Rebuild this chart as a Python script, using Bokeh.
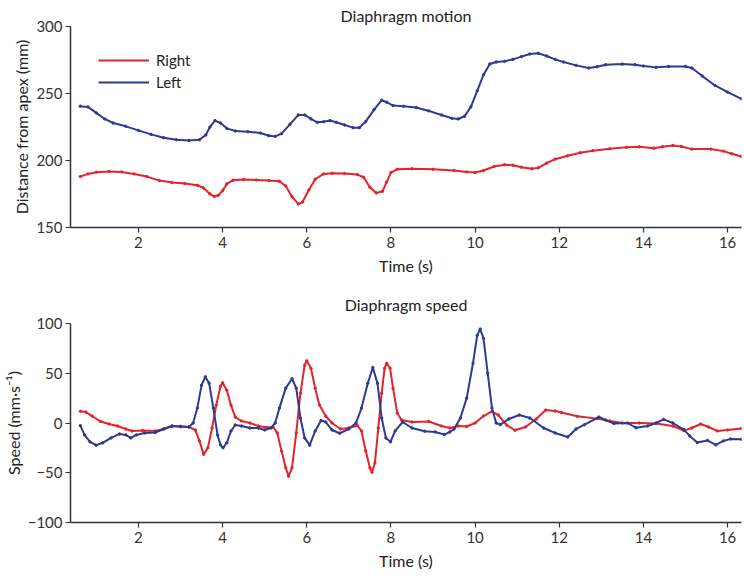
from bokeh.plotting import figure
from bokeh.layouts import column
from bokeh.models import Range1d, FixedTicker, Legend, LegendItem
from bokeh.embed import file_html
from bokeh.resources import INLINE

# ---- Diaphragm motion (distance from apex, mm) ----
t_dist_right = [0.62, 0.8, 1.0, 1.3, 1.6, 1.9, 2.2, 2.5, 2.8, 3.1, 3.4, 3.55, 3.7, 3.8, 3.9, 4.0,
                4.1, 4.25, 4.5, 4.8, 5.1, 5.35, 5.5, 5.65, 5.8, 5.9, 6.05, 6.2, 6.4, 6.6, 6.9,
                7.2, 7.35, 7.5, 7.65, 7.8, 7.9, 8.0, 8.15, 8.5, 9.0, 9.5, 9.8, 10.0, 10.2, 10.45,
                10.7, 10.9, 11.1, 11.35, 11.5, 11.7, 11.9, 12.2, 12.5, 12.8, 13.2, 13.6, 13.9,
                14.25, 14.45, 14.7, 14.9, 15.15, 15.6, 15.9, 16.1, 16.33]
dist_right = [188, 190, 191.3, 191.8, 191.5, 190, 188, 185, 183.5, 182.8, 181.5, 179.5, 175, 173.2,
              174, 177.5, 182.5, 185.3, 185.8, 185.5, 185, 184.5, 181, 173, 167.5, 169, 178, 186,
              190, 190.5, 190.3, 189.5, 187.5, 180, 175.8, 177, 184, 191, 193.5, 193.8, 193.5,
              192.5, 191.5, 191, 192.5, 195.5, 196.8, 196.5, 195, 193.8, 194.5, 198, 201, 203.5,
              205.8, 207.3, 208.8, 209.8, 210.2, 209.2, 210.3, 211.2, 210.5, 208.5, 208.5, 207,
              205, 203]

t_dist_left = [0.62, 0.8, 1.0, 1.2, 1.4, 1.7, 2.0, 2.3, 2.6, 2.9, 3.2, 3.45, 3.6, 3.7, 3.82, 3.95,
               4.1, 4.3, 4.6, 4.9, 5.1, 5.25, 5.4, 5.6, 5.8, 5.95, 6.1, 6.25, 6.4, 6.55, 6.7, 6.9,
               7.1, 7.25, 7.4, 7.6, 7.78, 7.9, 8.05, 8.3, 8.6, 8.9, 9.2, 9.45, 9.6, 9.75, 9.9,
               10.05, 10.2, 10.35, 10.5, 10.7, 10.9, 11.1, 11.3, 11.5, 11.7, 11.9, 12.1, 12.4,
               12.7, 12.9, 13.1, 13.5, 13.8, 14.0, 14.3, 14.6, 15.0, 15.15, 15.4, 15.7, 16.0, 16.33]
dist_left = [240.5, 240, 235.5, 231, 228, 225.5, 222.5, 219.5, 217, 215.5, 215, 215.5, 219, 225,
             229.8, 228, 224, 222, 221.5, 220.5, 218.5, 218, 220, 227, 234, 234, 231, 228.5, 229,
             229.8, 228.5, 226.5, 224.5, 224.5, 229, 238, 245, 243.5, 241, 240.5, 239.5, 237, 234,
             231.5, 231, 233, 240, 252, 264, 272, 273.5, 274, 275.5, 277.5, 279.5, 280, 278,
             275.5, 273.5, 271, 269, 270, 271.5, 272, 271.5, 270.5, 269.5, 270.2, 270.2, 269,
             263, 256, 251, 246]

# ---- Diaphragm speed (mm/s) ----
t_speed_right = [0.62, 0.75, 0.9, 1.1, 1.3, 1.5, 1.7, 1.85, 2.1, 2.4, 2.6, 2.8, 3.0, 3.2, 3.35,
                 3.45, 3.55, 3.65, 3.75, 3.85, 3.95, 4.0, 4.1, 4.2, 4.3, 4.45, 4.65, 4.85, 5.05,
                 5.2, 5.3, 5.4, 5.5, 5.57, 5.65, 5.75, 5.85, 5.95, 6.0, 6.1, 6.2, 6.3, 6.45, 6.6,
                 6.8, 7.0, 7.2, 7.3, 7.4, 7.5, 7.55, 7.62, 7.7, 7.78, 7.85, 7.9, 7.98, 8.05, 8.15,
                 8.25, 8.5, 8.9, 9.2, 9.4, 9.6, 9.8, 10.0, 10.2, 10.4, 10.55, 10.75, 10.95, 11.2,
                 11.45, 11.68, 11.9, 12.05, 12.43, 12.9, 13.2, 13.5, 13.9, 14.3, 14.7, 14.96,
                 15.15, 15.36, 15.55, 15.75, 16.0, 16.33]
speed_right = [11.7, 11, 7, 1.5, -1, -3, -6, -8, -7.5, -8, -6, -3, -3.5, -4, -7, -18, -31.5, -25,
               -5, 18, 37, 40.5, 33, 18, 6, 2, 0, -3, -4.5, -4, -10, -28, -45, -53.5, -45, -10,
               30, 58, 62.5, 55, 35, 18, 7, 0, -6, -5, -2.5, -8, -28, -45, -49.5, -40, -5, 30,
               55, 60, 55, 35, 10, 3, 1, 1.5, -3, -5, -3, -3.5, 0, 7, 11.7, 8, -2, -7.3, -4, 4,
               13, 12, 10.6, 6.7, 4.4, 2, 0, 0, -0.5, -3, -7.7, -5, -1, -4, -8, -7, -5.6]

t_speed_left = [0.62, 0.72, 0.85, 0.99, 1.15, 1.35, 1.55, 1.7, 1.82, 1.95, 2.15, 2.4, 2.6, 2.8,
                3.0, 3.2, 3.3, 3.4, 3.5, 3.59, 3.68, 3.78, 3.88, 3.95, 4.01, 4.1, 4.2, 4.3, 4.45,
                4.65, 4.85, 5.0, 5.15, 5.25, 5.35, 5.5, 5.65, 5.75, 5.85, 5.95, 6.07, 6.2, 6.34,
                6.45, 6.6, 6.78, 7.0, 7.17, 7.3, 7.45, 7.57, 7.68, 7.78, 7.88, 7.99, 8.1, 8.28,
                8.5, 8.8, 9.05, 9.27, 9.4, 9.5, 9.65, 9.8, 9.95, 10.05, 10.12, 10.2, 10.3, 10.4,
                10.5, 10.6, 10.8, 11.05, 11.3, 11.63, 11.9, 12.2, 12.4, 12.6, 12.94, 13.1, 13.3,
                13.62, 13.82, 14.1, 14.3, 14.48, 14.7, 14.96, 15.1, 15.28, 15.52, 15.72, 15.9,
                16.07, 16.33]
speed_left = [-2.6, -12, -19, -22.3, -20, -15, -11, -12, -15, -12, -10, -9.5, -6, -3, -3.5, -4,
              0, 15, 38, 46.5, 40, 15, -12, -22, -24.9, -20, -8, -2, -3, -5, -5, -7, -5, 0, 15,
              35, 44.5, 35, 5, -15, -22.3, -8, 2.5, 1, -7, -10.3, -6, 0, 15, 40, 55.8, 40, 5,
              -15, -18.9, -8, 1, -5, -8.3, -9, -11.6, -9, -6, 5, 25, 60, 88, 94.4, 85, 50, 15,
              0, -1.6, 4, 8, 5, -5, -10, -14, -6, -1.7, 6, 3, -0.5, 0, -4.7, -3, 0, 3.6, 0,
              -6.6, -13, -19.7, -17.5, -22, -18, -16, -16.3]

x_ticks = [2, 4, 6, 8, 10, 12, 14, 16]
dist_ticks = [150, 200, 250, 300]
speed_ticks = [-100, -50, 0, 50, 100]

RED = "#e3242b"
BLUE = "#2e3a92"
AXIS = "#30304e"
FONT = "Lato"


def style(p, yticks):
    p.outline_line_color = None
    p.xgrid.visible = False
    p.ygrid.visible = False
    p.xaxis.ticker = FixedTicker(ticks=x_ticks)
    p.yaxis.ticker = FixedTicker(ticks=yticks)
    for ax in (p.xaxis[0], p.yaxis[0]):
        ax.axis_line_color = AXIS
        ax.axis_line_width = 1.5
        ax.major_tick_line_color = AXIS
        ax.major_tick_line_width = 1.2
        ax.major_tick_out = 5
        ax.major_tick_in = 0
        ax.minor_tick_line_color = None
        ax.major_label_text_font = FONT
        ax.major_label_text_font_size = "15px"
        ax.major_label_text_color = "#333333"
        ax.axis_label_text_font = FONT
        ax.axis_label_text_font_size = "16px"
        ax.axis_label_text_font_style = "normal"
        ax.axis_label_text_color = "#222222"
        ax.major_label_standoff = 3
        ax.axis_label_standoff = 2
    p.xaxis.major_label_standoff = 4
    p.xaxis.axis_label_standoff = 5
    p.title.text_font = FONT
    p.title.text_font_size = "16px"
    p.title.text_font_style = "normal"
    p.title.text_color = "#222222"
    p.title.align = "center"


p1 = figure(width=744, height=282, output_backend="svg", toolbar_location=None,
            title="Diaphragm motion", x_range=Range1d(0.386, 16.33), y_range=Range1d(150, 300),
            min_border_left=69, min_border_right=3, min_border_top=26, min_border_bottom=55)
p1.title.standoff = 3
style(p1, dist_ticks)
p1.xaxis.axis_label = "Time (s)"
p1.yaxis.axis_label = "Distance from apex (mm)"

r1 = p1.line(t_dist_right, dist_right, line_color=RED, line_width=2)
p1.scatter(t_dist_right, dist_right, marker="circle", size=2.4, color=RED)
l1 = p1.line(t_dist_left, dist_left, line_color=BLUE, line_width=2)
p1.scatter(t_dist_left, dist_left, marker="circle", size=2.4, color=BLUE)
# legend-only marker glyphs (no data)
r1m = p1.scatter([], [], marker="circle", size=5, color=RED)
l1m = p1.scatter([], [], marker="circle", size=5, color=BLUE)

legend = Legend(items=[LegendItem(label="Right", renderers=[r1, r1m]),
                       LegendItem(label="Left", renderers=[l1, l1m])],
                location=(28, 136), background_fill_alpha=0, border_line_color=None,
                padding=0, spacing=4, glyph_width=51, glyph_height=16, label_height=16,
                label_text_font=FONT, label_text_font_size="15px", label_text_color="#222222",
                label_standoff=7, margin=0)
p1.add_layout(legend, "center")

p2 = figure(width=744, height=290, output_backend="svg", toolbar_location=None,
            title="Diaphragm speed", x_range=Range1d(0.386, 16.33), y_range=Range1d(-100, 100),
            min_border_left=69, min_border_right=3, min_border_top=41, min_border_bottom=50)
p2.title.standoff = 20
style(p2, speed_ticks)
p2.yaxis.major_label_overrides = {-100: "\u2212100", -50: "\u221250"}
p2.xaxis.axis_label = "Time (s)"
p2.yaxis.axis_label = "Speed (mm\u00b7s\u207b\u00b9)"

p2.line(t_speed_right, speed_right, line_color=RED, line_width=2)
p2.scatter(t_speed_right, speed_right, marker="circle", size=2.4, color=RED)
p2.line(t_speed_left, speed_left, line_color=BLUE, line_width=2)
p2.scatter(t_speed_left, speed_left, marker="circle", size=2.4, color=BLUE)

layout = column(p1, p2, spacing=0)
open("out.html", "w").write(file_html(layout, INLINE))
